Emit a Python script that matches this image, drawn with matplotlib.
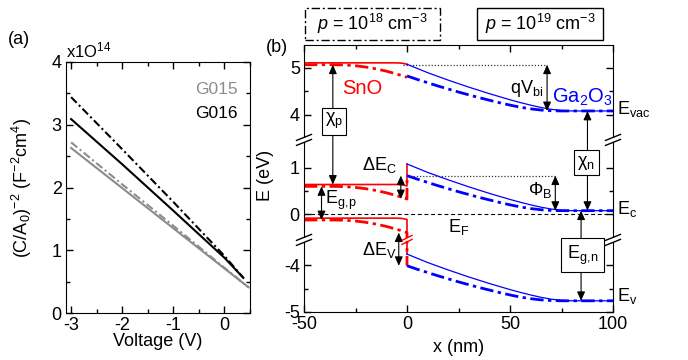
import numpy as np
import matplotlib
matplotlib.use("Agg")
import matplotlib.pyplot as plt
from matplotlib.patches import Rectangle
from matplotlib.lines import Line2D
from matplotlib.ticker import FixedLocator, MultipleLocator

plt.rcParams['font.family'] = ['Liberation Sans', 'DejaVu Sans']
plt.rcParams['mathtext.fontset'] = 'custom'
plt.rcParams['mathtext.rm'] = 'Liberation Sans'
plt.rcParams['mathtext.it'] = 'Liberation Sans:italic'
plt.rcParams['mathtext.bf'] = 'Liberation Sans:bold'
plt.rcParams['font.size'] = 13

# ---------------- (a) capacitance-voltage data (units of 1e14 F^-2 cm^4) ----------------
voltage_g016 = [-3.0, -2.0, -1.0, 0.0, 0.37]
cv_g016_dd = [3.44, 2.61, 1.77, 0.91, 0.56]
cv_g016_solid = [3.09, 2.37, 1.63, 0.88, 0.56]
voltage_g015 = [-3.0, -2.0, -1.0, 0.0, 0.47]
cv_g015_dd = [2.72, 2.05, 1.39, 0.72, 0.41]
cv_g015_solid = [2.63, 1.99, 1.35, 0.71, 0.41]
legend_names = ['G015', 'G016']

# ---------------- (b) band diagram data (eV) ----------------
# Ga2O3 side: conduction-band edge vs depth
x_n = [0, 5, 10, 15, 20, 25, 30, 35, 40, 45, 50, 55, 60, 65, 70, 75, 80, 90, 100]
ec_n_p19 = [1.08, 0.99, 0.90, 0.82, 0.74, 0.665, 0.59, 0.52, 0.45, 0.385, 0.32,
            0.26, 0.205, 0.155, 0.115, 0.09, 0.08, 0.08, 0.08]
ec_n_p18 = [0.83, 0.755, 0.685, 0.615, 0.55, 0.485, 0.425, 0.365, 0.31, 0.255,
            0.205, 0.16, 0.125, 0.10, 0.085, 0.08, 0.08, 0.08, 0.08]
chi_n = 4.00
eg_n = 4.84

# SnO side: conduction-band edge vs depth
x_p_p19 = [-50, -5, -3, -2, -1, 0]
ec_p_p19 = [0.64, 0.64, 0.635, 0.63, 0.62, 0.61]
x_p_p18 = [-50, -35, -30, -25, -20, -15, -10, -5, 0]
ec_p_p18 = [0.60, 0.60, 0.594, 0.578, 0.55, 0.512, 0.462, 0.402, 0.33]
chi_p = 4.47
eg_p = 0.72

e_vac_ref = 5.07
phi_b_level = 0.83

RED = '#ff0000'
BLUE = '#0000ff'
GREY = '#8c8c8c'

W, H = 688, 360
fig = plt.figure(figsize=(W / 100, H / 100), dpi=100)

# ================= panel (a) =================
axa = fig.add_axes([66 / W, (H - 313) / H, 184 / W, 251 / H])
dd_a = (0, (3.8, 1.5, 1.0, 1.5))
axa.plot(voltage_g016, cv_g016_dd, color='k', lw=1.5, ls=dd_a)
axa.plot(voltage_g016, cv_g016_solid, color='k', lw=1.5)
axa.plot(voltage_g015, cv_g015_dd, color=GREY, lw=1.5, ls=dd_a)
axa.plot(voltage_g015, cv_g015_solid, color=GREY, lw=1.5)
axa.set_xlim(-3.1, 0.5)
axa.set_ylim(0, 4)
axa.xaxis.set_major_locator(FixedLocator([-3, -2, -1, 0]))
axa.xaxis.set_minor_locator(MultipleLocator(0.5))
axa.yaxis.set_major_locator(FixedLocator([0, 1, 2, 3, 4]))
axa.yaxis.set_minor_locator(MultipleLocator(0.5))
axa.set_xticklabels(['-3', '-2', '-1', '0'])
axa.set_yticklabels(['0', '1', '2', '3', '4'])
axa.tick_params(which='both', direction='in', top=True, right=True, labelsize=13, pad=3)
axa.tick_params(which='major', length=5, width=1)
axa.tick_params(which='minor', length=3, width=1)
axa.set_xlabel('Voltage (V)', fontsize=13)
axa.set_ylabel(r'(C/A$_0$)$^{-2}$ (F$^{-2}$cm$^4$)', fontsize=13)
axa.xaxis.set_label_coords(0.5, -0.078)
axa.yaxis.set_label_coords(-0.175, 0.5)
axa.text(0.0, 1.02, r'x1O$^{14}$', transform=axa.transAxes, ha='left', va='baseline', fontsize=12)
axa.text(0.935, 0.892, legend_names[0], color=GREY, transform=axa.transAxes, ha='right', va='center', fontsize=12.5)
axa.text(0.935, 0.793, legend_names[1], color='k', transform=axa.transAxes, ha='right', va='center', fontsize=12.5)
fig.text(8 / W, 1 - 40 / H, '(a)', ha='left', va='center', fontsize=13)

# ================= panel (b) =================
TOP_SHIFT = 1.865
BOT_SHIFT = 2.91
U_HI = 1.595
U_LO = -0.546


def fold(e):
    e = np.asarray(e, float)
    return np.where(e >= U_HI + TOP_SHIFT, e - TOP_SHIFT,
                    np.where(e >= U_HI, U_HI,
                             np.where(e >= U_LO, e,
                                      np.where(e >= U_LO - BOT_SHIFT, U_LO, e + BOT_SHIFT))))


def unfold(u):
    u = np.asarray(u, float)
    return np.where(u > U_HI, u + TOP_SHIFT, np.where(u >= U_LO, u, u - BOT_SHIFT))


ax_h = (3.635 + 2.09) * 46.7
axb = fig.add_axes([304 / W, (H - 312) / H, 309 / W, ax_h / H])
axb.set_yscale('function', functions=(fold, unfold))
axb.set_xlim(-50, 100)
axb.set_ylim(-5, 5.5)

xn = np.array(x_n, float)
ecn19 = np.array(ec_n_p19)
ecn18 = np.array(ec_n_p18)
xp19 = np.array(x_p_p19, float)
ecp19 = np.array(ec_p_p19)
xp18 = np.array(x_p_p18, float)
ecp18 = np.array(ec_p_p18)

dd_b = (0, (4.8, 1.6, 1.2, 1.6))
lw_dd = 2.0

# SnO (p side), p = 1e19 (solid)
axb.plot(xp19, ecp19 + chi_p, color=RED, lw=1.2)
axb.plot(np.append(xp19, 0), np.append(ecp19, ecn19[0]), color=RED, lw=1.2)
axb.plot(np.append(xp19, 0), np.append(ecp19 - eg_p, ecn19[0] - eg_n), color=RED, lw=1.2)
# SnO (p side), p = 1e18 (dash-dot)
axb.plot(xp18, ecp18 + chi_p, color=RED, lw=lw_dd, ls=dd_b)
axb.plot(np.append(xp18, 0), np.append(ecp18, ecn18[0]), color=RED, lw=lw_dd, ls=dd_b)
axb.plot(np.append(xp18, 0), np.append(ecp18 - eg_p, ecn18[0] - eg_n), color=RED, lw=lw_dd, ls=dd_b)

# Ga2O3 (n side)
for ec, kw in ((ecn19, dict(lw=0.9)), (ecn18, dict(lw=lw_dd, ls=dd_b))):
    axb.plot(xn, ec + chi_n, color=BLUE, **kw)
    axb.plot(xn, ec, color=BLUE, **kw)
    axb.plot(xn, ec - eg_n, color=BLUE, **kw)

# reference lines
axb.plot([-50, 100], [0, 0], color='k', lw=0.8, ls=(0, (3.5, 2.5)), zorder=1)
axb.plot([-2, 68], [e_vac_ref, e_vac_ref], color='#333333', lw=0.9, ls=(0, (1, 1.5)), zorder=1)
axb.plot([0, 72], [phi_b_level, phi_b_level], color='#333333', lw=0.9, ls=(0, (1, 1.5)), zorder=1)


def darrow(x, e0, e1):
    axb.annotate('', xy=(x, e1), xytext=(x, e0),
                 arrowprops=dict(arrowstyle='<|-|>,head_length=0.45,head_width=0.2',
                                 color='k', lw=0.8, shrinkA=0, shrinkB=0,
                                 mutation_scale=12), zorder=4)


darrow(-36, e_vac_ref, ecp19[0])           # chi_p
darrow(68, e_vac_ref, ecn19[-1] + chi_n)    # qV_bi
darrow(87.6, ecn19[-1] + chi_n, ecn19[-1])  # chi_n
darrow(84.5, ecn19[-1], ecn19[-1] - eg_n)   # E_g,n
darrow(72, phi_b_level, ecn19[-1])          # Phi_B
darrow(-3, ecp18[-1], ecn18[0])             # Delta E_C
darrow(-4, ecp18[-1] - eg_p, ecn18[0] - eg_n)  # Delta E_V
darrow(-41.5, ecp18[0], ecp18[0] - eg_p)    # E_g,p

box = dict(boxstyle='square,pad=0.18', fc='white', ec='k', lw=0.8)
axb.text(-35.5, 3.86, 'χ$_\\mathrm{p}$', ha='center', va='center', fontsize=13, bbox=box, zorder=6)
axb.text(87.1, 1.11, 'χ$_\\mathrm{n}$', ha='center', va='center', fontsize=13, bbox=box, zorder=6)
axb.text(85.2, -3.78, 'E$_\\mathrm{g,\\!n}$', ha='center', va='center', fontsize=13,
         bbox=dict(boxstyle='square,pad=0.3', fc='white', ec='k', lw=0.8), zorder=6)

axb.text(-31.5, 4.57, 'SnO', color=RED, ha='left', va='center', fontsize=14.5)
axb.text(70.4, 4.38, 'Ga$_2$O$_3$', color=BLUE, ha='left', va='center', fontsize=14.5)
axb.text(66, 4.57, 'qV$_\\mathrm{bi}$', ha='right', va='center', fontsize=13)
axb.text(102, 4.12, 'E$_\\mathrm{vac}$', ha='left', va='center', fontsize=13, clip_on=False)
axb.text(102, 0.12, 'E$_\\mathrm{c}$', ha='left', va='center', fontsize=13, clip_on=False)
axb.text(102, -4.66, 'E$_\\mathrm{v}$', ha='left', va='center', fontsize=13, clip_on=False)
axb.text(70.4, 0.52, 'Φ$_\\mathrm{B}$', ha='right', va='center', fontsize=13)
axb.text(-4.9, 1.06, 'ΔE$_\\mathrm{C}$', ha='right', va='center', fontsize=13)
axb.text(-39.8, 0.29, 'E$_\\mathrm{g,\\!p}$', ha='left', va='center', fontsize=13)
axb.text(20, -0.27, 'E$_\\mathrm{F}$', ha='left', va='center', fontsize=13)
axb.text(-4.9, -3.67, 'ΔE$_\\mathrm{V}$', ha='right', va='center', fontsize=13)

axb.xaxis.set_major_locator(FixedLocator([-50, 0, 50, 100]))
axb.xaxis.set_minor_locator(FixedLocator([-25, 25, 75]))
axb.yaxis.set_major_locator(FixedLocator([-5, -4, 0, 1, 4, 5]))
axb.yaxis.set_minor_locator(FixedLocator([-4.5, 0.5, 4.5]))
axb.set_xticklabels(['-50', '0', '50', '100'])
axb.set_yticklabels(['-5', '-4', '0', '1', '4', '5'])
axb.tick_params(which='both', direction='in', top=True, right=True, labelsize=13, pad=3)
axb.tick_params(which='major', length=5, width=1)
axb.tick_params(which='minor', length=3, width=1)
axb.set_xlabel('x (nm)', fontsize=13)
axb.set_ylabel('E (eV)', fontsize=13)
axb.xaxis.set_label_coords(0.5, -0.1)
axb.yaxis.set_label_coords(-0.097, 0.51)
fig.text(266 / W, 1 - 47 / H, '(b)', ha='left', va='center', fontsize=13)


def break_mark(xpix, ypix, color='k', half=7.5, rise=3.0, sep=2.5, lw=1.0):
    fig.add_artist(Rectangle(((xpix - 2) / W, (ypix - sep + 0.5) / H), 4 / W, (2 * sep - 1) / H,
                             transform=fig.transFigure, fc='white', ec='none', zorder=20))
    for dy in (-sep, sep):
        fig.add_artist(Line2D([(xpix - half) / W, (xpix + half) / W],
                              [(ypix + dy - rise) / H, (ypix + dy + rise) / H],
                              transform=fig.transFigure, color=color, lw=lw, zorder=21))


for u in (U_HI, U_LO):
    ypix = axb.transData.transform((0, u))[1]
    for xa in (0.0, 1.0):
        xpix = axb.transAxes.transform((xa, 0))[0]
        break_mark(xpix, ypix)
xpix0, ylo = axb.transData.transform((0, U_LO))
break_mark(xpix0, ylo, color=RED, half=5, rise=2.5, sep=2.0, lw=1.0)

# doping boxes above panel (b)
fig.add_artist(Rectangle((305 / W, (H - 40) / H), 135 / W, 32 / H, transform=fig.transFigure,
                         fc='none', ec='k', lw=1.0, ls=(0, (6, 2, 1.5, 2))))
fig.add_artist(Rectangle((477 / W, (H - 40) / H), 126 / W, 32 / H, transform=fig.transFigure,
                         fc='none', ec='k', lw=1.0))
fig.text(372 / W, 1 - 24 / H, r'$p$ = 10$^{18}$ cm$^{-3}$', ha='center', va='center', fontsize=13)
fig.text(540 / W, 1 - 24 / H, r'$p$ = 10$^{19}$ cm$^{-3}$', ha='center', va='center', fontsize=13)

fig.savefig('out.png', dpi=100)
